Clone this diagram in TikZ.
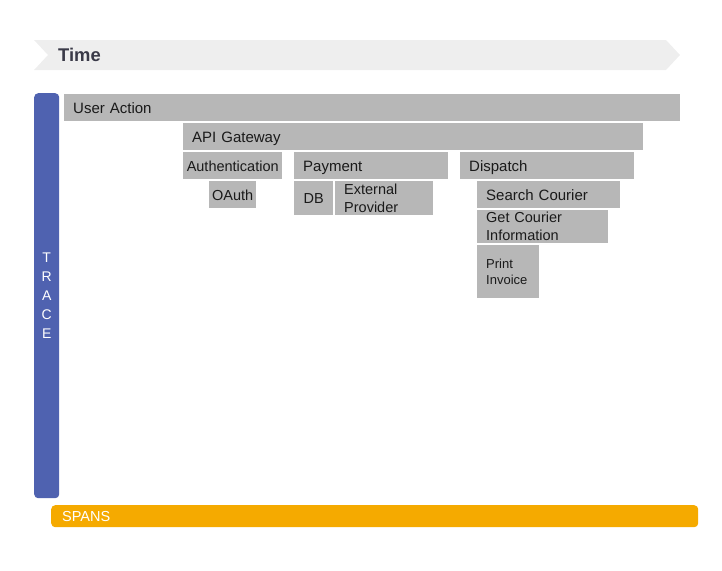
\documentclass[tikz,border=0pt]{standalone}
\usepackage{fontspec}
\setmainfont{Liberation Sans}
\usepackage{xcolor}
\usetikzlibrary{positioning}
\definecolor{ink}{HTML}{1A1A1A}
\definecolor{spangray}{HTML}{B7B7B7}
\definecolor{tracebl}{HTML}{4F62B0}
\definecolor{spanor}{HTML}{F5AA00}
\definecolor{timebg}{HTML}{EEEEEE}
\definecolor{timeink}{HTML}{3A3A48}

\begin{document}
\begin{tikzpicture}[x=1pt, y=-1pt,
  font=\fontsize{15}{18}\selectfont,
  span/.style={fill=spangray, text=ink, anchor=north west, align=left,
               inner xsep=9pt, inner ysep=0pt},
  one/.style={text height=10.8pt, text depth=0pt},
  mid/.style={align=center, inner xsep=0pt},
  bar/.style={rounded corners=4pt, text=white, anchor=north west, inner ysep=0pt}]
  \useasboundingbox (0,0) rectangle (722,570);
  \fill[timebg] (34,40) -- (666,40) -- (680,55) -- (666,70) -- (34,70) -- (48,55) -- cycle;
  \node[anchor=west, inner sep=0pt, text=timeink, font=\fontsize{18.4}{20}\selectfont\bfseries] (time) at (58,55) {Time};
  \node[bar, fill=tracebl, minimum width=25pt, minimum height=405pt, inner xsep=0pt, align=center,
        font=\fontsize{14}{19}\selectfont] (trace) at (34,93) {T\\R\\A\\C\\E};
  \node[bar, fill=spanor, text width=625pt, minimum height=22pt, inner xsep=11pt, one,
        font=\fontsize{14.5}{17}\selectfont] (spans) at (51,505) {SPANS};
  \node[span, one, text width=598pt, minimum height=27pt] (ua) at (64,94) {User Action};
  \node[span, one, text width=442pt, minimum height=27pt] (api) at (183,123) {API Gateway};
  \node[span, one, mid, text width=99pt, minimum height=27pt, font=\fontsize{14.5}{17}\selectfont] (auth) at (183,152) {Authentication};
  \node[span, one, text width=136pt, minimum height=27pt] (pay) at (294,152) {Payment};
  \node[span, one, text width=156pt, minimum height=27pt] (disp) at (460,152) {Dispatch};
  \node[span, one, mid, text width=47pt, minimum height=27pt, font=\fontsize{14.5}{17}\selectfont] (oauth) at (209,181) {OAuth};
  \node[span, one, mid, text width=39pt, minimum height=34pt, font=\fontsize{14.5}{17}\selectfont] (db) at (294,181) {DB};
  \node[span, text width=80pt, minimum height=34pt, font=\fontsize{14.5}{18}\selectfont] (ext) at (335,181) {External\\Provider};
  \node[span, one, text width=125pt, minimum height=27pt] (search) at (477,181) {Search Courier};
  \node[span, text width=113pt, minimum height=33pt, font=\fontsize{14.5}{18}\selectfont] (getc) at (477,210) {Get Courier\\Information};
  \node[span, text width=44pt, minimum height=53pt, font=\fontsize{13}{16}\selectfont] (print) at (477,245) {Print\\Invoice};
\end{tikzpicture}
\end{document}
